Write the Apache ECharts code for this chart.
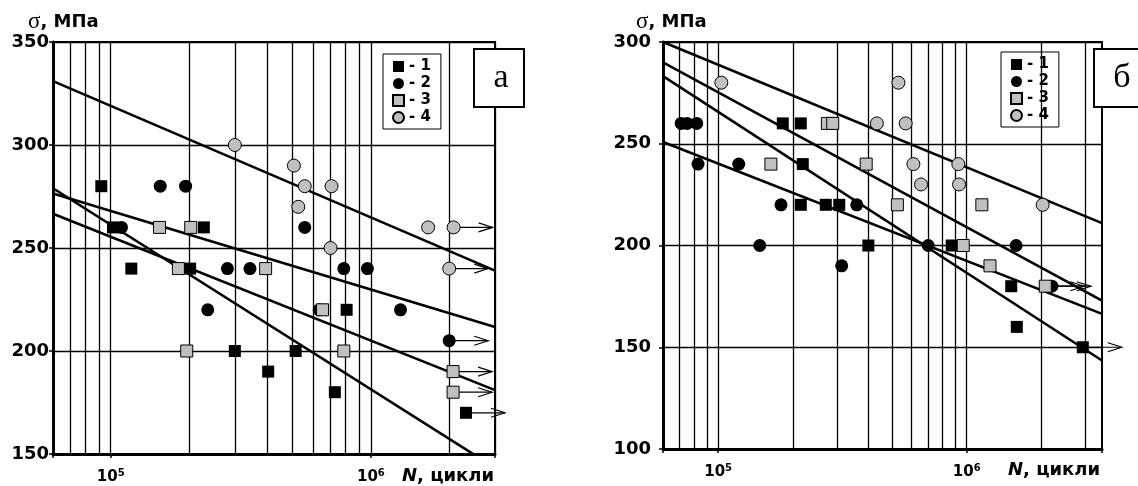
<!DOCTYPE html>
<html><head><meta charset="utf-8">
<script src="https://cdn.jsdelivr.net/npm/echarts@6/dist/echarts.min.js"></script>
<style>html,body{margin:0;padding:0;background:#fff}#c{width:1138px;height:486px}</style>
</head><body><div id="c"></div><script>
// ---------- data : panel "а" ----------
const seriesNames = ['1', '2', '3', '4'];
const a_s1 = [[9.2e4,280],[1.02e5,260],[2.28e5,260],[1.2e5,240],[2.02e5,240],[3.0e5,200],[4.03e5,190],[5.14e5,200],[8.07e5,220],[7.27e5,180],[2.32e6,170]];
const a_s2 = [[1.10e5,260],[1.55e5,280],[1.94e5,280],[2.36e5,220],[2.81e5,240],[3.43e5,240],[5.57e5,260],[6.33e5,220],[7.87e5,240],[9.7e5,240],[1.30e6,220],[2.0e6,205]];
const a_s3 = [[1.54e5,260],[2.03e5,260],[1.82e5,240],[3.94e5,240],[1.96e5,200],[6.52e5,220],[7.87e5,200],[2.07e6,190],[2.07e6,180]];
const a_s4 = [[3.0e5,300],[5.06e5,290],[5.57e5,280],[7.06e5,280],[5.26e5,270],[7.0e5,250],[1.66e6,260],[2.08e6,260],[2.0e6,240]];
const a_arrows = [[2.08e6,260],[2.0e6,240],[2.0e6,205],[2.07e6,190],[2.07e6,180],[2.32e6,170]];
const a_fit1 = [[6e4,279],[3e6,143.3]];
const a_fit2 = [[6e4,266.6],[3e6,181]];
const a_fit3 = [[6e4,276.5],[3e6,211.7]];
const a_fit4 = [[6e4,331],[3e6,239]];
const a_xRange = [6e4, 3e6];
const a_yRange = [150, 350];

// ---------- data : panel "б" ----------
const b_s1 = [[1.82e5,260],[2.15e5,260],[2.19e5,240],[2.15e5,220],[2.71e5,220],[3.07e5,220],[4.02e5,200],[8.7e5,200],[1.51e6,180],[1.59e6,160],[2.93e6,150]];
const b_s2 = [[7.1e4,260],[7.5e4,260],[8.2e4,260],[8.3e4,240],[1.21e5,240],[1.47e5,200],[1.79e5,220],[3.14e5,190],[3.61e5,220],[7.0e5,200],[1.58e6,200],[2.2e6,180]];
const b_s3 = [[1.63e5,240],[2.75e5,260],[2.89e5,260],[3.94e5,240],[5.26e5,220],[9.68e5,200],[1.15e6,220],[1.24e6,190],[2.07e6,180]];
const b_s4 = [[1.03e5,280],[4.35e5,260],[5.31e5,280],[5.68e5,260],[6.1e5,240],[6.55e5,230],[9.25e5,240],[9.31e5,230],[2.02e6,220]];
const b_arrows = [[2.07e6,180],[2.2e6,180],[2.93e6,150]];
const b_fit1 = [[6e4,290],[3.5e6,172.9]];
const b_fit2 = [[6e4,283.2],[3.5e6,143.5]];
const b_fit3 = [[6e4,250.9],[3.5e6,166.4]];
const b_fit4 = [[6e4,300],[3.5e6,211]];
const b_xRange = [6e4, 3.5e6];
const b_yRange = [100, 300];

// log grid lines (2..9 x 10^k)
const xGridLines = [7e4,8e4,9e4,1e5,2e5,3e5,4e5,5e5,6e5,7e5,8e5,9e5,1e6,2e6,3e6];
const yTickStep = 50;
const panelLetters = ['а', 'б'];

// ---------- styles ----------
const SANS = 'DejaVu Sans';
const GRAY = '#c0c0c0';
const markerStyles = [
  {symbol: 'rect', symbolSize: 12, itemStyle: {color: '#000', borderColor: '#000', borderWidth: 0, opacity: 1}},
  {symbol: 'circle', symbolSize: 13, itemStyle: {color: '#000', borderColor: '#000', borderWidth: 0, opacity: 1}},
  {symbol: 'rect', symbolSize: 12, itemStyle: {color: GRAY, borderColor: '#000', borderWidth: 1, opacity: 1}},
  {symbol: 'circle', symbolSize: 13, itemStyle: {color: GRAY, borderColor: '#000', borderWidth: 1, opacity: 1}}
];

function powLabel(v) {
  const k = Math.round(Math.log10(v));
  if (Math.abs(v - Math.pow(10, k)) / v < 1e-6) return '{b|10}{s|' + k + '}';
  return '';
}

function xAxisCfg(gi, range) {
  return {
    type: 'log', logBase: 10, gridIndex: gi, min: range[0], max: range[1],
    axisLine: {show: true, lineStyle: {color: '#000', width: 3}},
    axisTick: {show: true, length: 4, lineStyle: {color: '#000', width: 1.5}},
    splitLine: {show: false}, minorTick: {show: false}, minorSplitLine: {show: false},
    axisLabel: {
      formatter: powLabel, margin: 14, color: '#000',
      rich: {
        b: {fontFamily: SANS, fontWeight: 'bold', fontSize: 15, color: '#000', lineHeight: 18},
        s: {fontFamily: SANS, fontWeight: 'bold', fontSize: 10, color: '#000', lineHeight: 18, verticalAlign: 'top', padding: [0, 0, 8, 0]}
      }
    }
  };
}
function yAxisCfg(gi, range, margin) {
  return {
    type: 'value', gridIndex: gi, min: range[0], max: range[1], interval: yTickStep,
    axisLine: {show: true, lineStyle: {color: '#000', width: 3}},
    axisTick: {show: true, length: 4, lineStyle: {color: '#000', width: 1.5}},
    splitLine: {show: true, lineStyle: {color: '#000', width: 1.3}},
    axisLabel: {margin: margin, color: '#000', fontFamily: SANS, fontWeight: 'bold', fontSize: 18}
  };
}

function panelSeries(gi, pts, fits, arrows) {
  const out = [];
  out.push({
    type: 'line', xAxisIndex: gi, yAxisIndex: gi, data: [], silent: true, z: 1,
    markLine: {
      silent: true, symbol: ['none', 'none'], animation: false,
      label: {show: false},
      lineStyle: {color: '#000', width: 1.3, type: 'solid'},
      data: xGridLines.map(v => ({xAxis: v}))
    }
  });
  fits.forEach(f => out.push({
    type: 'line', xAxisIndex: gi, yAxisIndex: gi, data: f, symbol: 'none', silent: true,
    clip: true, z: 3, lineStyle: {color: '#000', width: 2.6}
  }));
  out.push({
    type: 'custom', xAxisIndex: gi, yAxisIndex: gi, data: arrows, z: 4, silent: true, clip: false,
    renderItem: function (params, api) {
      const p = api.coord([api.value(0), api.value(1)]);
      const L = 39;
      return {
        type: 'group',
        children: [
          {type: 'line', shape: {x1: p[0], y1: p[1], x2: p[0] + L, y2: p[1]}, style: {stroke: '#000', lineWidth: 1.2}},
          {type: 'polyline', shape: {points: [[p[0] + L - 14, p[1] - 4.5], [p[0] + L, p[1]], [p[0] + L - 14, p[1] + 4.5]]}, style: {stroke: '#000', lineWidth: 1.2, fill: 'none'}}
        ]
      };
    }
  });
  pts.forEach((d, i) => out.push(Object.assign({
    name: seriesNames[i], type: 'scatter', xAxisIndex: gi, yAxisIndex: gi, data: d, z: 5, silent: true
  }, markerStyles[i])));
  return out;
}

function legendCfg(left, top) {
  return {
    data: seriesNames, orient: 'vertical', left: left, top: top,
    selectedMode: false, backgroundColor: '#fff', borderColor: '#000', borderWidth: 1,
    padding: [5, 10, 4, 9], itemGap: 2, itemWidth: 11, itemHeight: 11,
    formatter: n => '- ' + n,
    textStyle: {fontFamily: SANS, fontWeight: 'bold', fontSize: 15, color: '#000', lineHeight: 15}
  };
}

function titleText(x, y) {
  return {
    type: 'text', x: x, y: y, z: 50, silent: true,
    style: {
      text: '{s|σ}{t|, МПа}', verticalAlign: 'middle', align: 'left',
      rich: {
        s: {fontFamily: 'Liberation Serif', fontSize: 23, fill: '#000'},
        t: {fontFamily: SANS, fontWeight: 'bold', fontSize: 18, fill: '#000'}
      }
    }
  };
}
function nText(x, y) {
  return {
    type: 'text', x: x, y: y, z: 50, silent: true,
    style: {
      text: '{n|N}{t|, цикли}', verticalAlign: 'middle', align: 'left',
      rich: {
        n: {fontFamily: SANS, fontWeight: 'bold', fontStyle: 'italic', fontSize: 18, fill: '#000'},
        t: {fontFamily: SANS, fontWeight: 'bold', fontSize: 18, fill: '#000'}
      }
    }
  };
}
function letterBox(x, y, w, h, letter, tx) {
  return {
    type: 'group', z: 60, silent: true,
    children: [
      {type: 'rect', shape: {x: x, y: y, width: w, height: h}, style: {fill: '#fff', stroke: '#000', lineWidth: 2}, z: 60},
      {type: 'text', x: tx, y: y + h / 2, z: 61, style: {text: letter, font: '34px "Liberation Serif"', fill: '#000', align: 'center', verticalAlign: 'middle'}}
    ]
  };
}

const chart = echarts.init(document.getElementById('c'), null, {renderer: 'canvas'});
chart.setOption({
  animation: false,
  backgroundColor: '#fff',
  grid: [
    {left: 53, top: 42, width: 442, height: 413, show: true, borderColor: '#000', borderWidth: 2, backgroundColor: 'transparent'},
    {left: 663, top: 42, width: 439, height: 407, show: true, borderColor: '#000', borderWidth: 2, backgroundColor: 'transparent'}
  ],
  xAxis: [xAxisCfg(0, a_xRange), xAxisCfg(1, b_xRange)],
  yAxis: [yAxisCfg(0, a_yRange, 4), yAxisCfg(1, b_yRange, 12)],
  legend: [legendCfg(383, 54), legendCfg(1001, 52)],
  series: [].concat(
    panelSeries(0, [a_s1, a_s2, a_s3, a_s4], [a_fit1, a_fit2, a_fit3, a_fit4], a_arrows),
    panelSeries(1, [b_s1, b_s2, b_s3, b_s4], [b_fit1, b_fit2, b_fit3, b_fit4], b_arrows)
  ),
  graphic: [
    titleText(28, 22), titleText(636, 22),
    nText(402, 476), nText(1008, 470),
    letterBox(474, 49, 50, 58, panelLetters[0], 501),
    letterBox(1094, 49, 50, 58, panelLetters[1], 1122)
  ]
});
</script></body></html>
